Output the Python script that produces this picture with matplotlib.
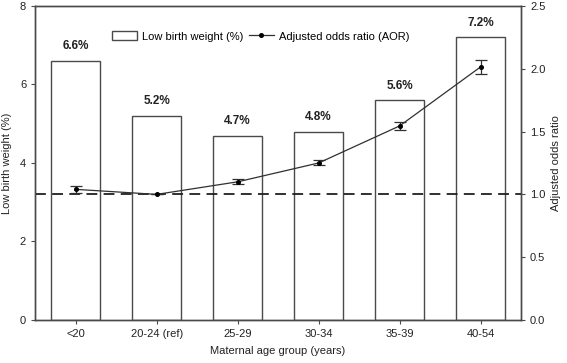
import matplotlib
matplotlib.use("Agg")
import matplotlib.pyplot as plt
from matplotlib.lines import Line2D
import numpy as np

plt.rcParams['font.family'] = ['Liberation Sans', 'DejaVu Sans']

groups = ["<20", "20-24 (ref)", "25-29", "30-34", "35-39", "40-54"]
lbw = [6.6, 5.2, 4.7, 4.8, 5.6, 7.2]
aor = [1.04, 1.00, 1.10, 1.25, 1.545, 2.015]
aor_lo = [1.01, 1.00, 1.08, 1.23, 1.515, 1.955]
aor_hi = [1.07, 1.00, 1.12, 1.27, 1.575, 2.07]

edge = '#4a4a4a'
fs = 8
fig = plt.figure(figsize=(5.67, 3.63), dpi=100)
ax = fig.add_axes([0.062, 0.1185, 0.857, 0.865])
x = np.arange(len(groups))

bars = ax.bar(x, lbw, width=0.6, color='white', edgecolor=edge, linewidth=1.0,
              label='Low birth weight (%)')
for xi, v in zip(x, lbw):
    ax.text(xi, v + 0.22, f"{v:.1f}%", ha='center', va='bottom',
            fontsize=8.5, fontweight='bold', color='#222222')

ax.set_xlim(-0.5, 5.5)
ax.set_ylim(0, 8)
ax.set_yticks([0, 2, 4, 6, 8])
ax.set_xticks(x)
ax.set_xticklabels(groups)
ax.set_xlabel("Maternal age group (years)", fontsize=fs, labelpad=5, color='#222222')
ax.set_ylabel("Low birth weight (%)", fontsize=fs, labelpad=6, color='#222222')
ax.tick_params(labelsize=fs, length=3, color=edge, width=0.8, labelcolor='#222222')
for s in ax.spines.values():
    s.set_color(edge)
    s.set_linewidth(1.0)

ax2 = ax.twinx()
ax2.set_ylim(0, 2.5)
ax2.set_yticks([0, 0.5, 1.0, 1.5, 2.0, 2.5])
ax2.set_yticklabels(["0.0", "0.5", "1.0", "1.5", "2.0", "2.5"])
ax2.tick_params(labelsize=fs, length=3, color=edge, width=0.8, labelcolor='#222222')
ax2.set_ylabel("Adjusted odds ratio", fontsize=fs, labelpad=4, color='#222222')
for s in ax2.spines.values():
    s.set_color(edge)
    s.set_linewidth(1.0)

ax2.axhline(1.0, color='#202020', linestyle=(0, (6, 3.5)), linewidth=1.3)
yerr = [np.array(aor) - np.array(aor_lo), np.array(aor_hi) - np.array(aor)]
ax2.errorbar(x, aor, yerr=yerr, color='#303030', linewidth=0.9, marker='o',
             markersize=2.6, markerfacecolor='black', markeredgecolor='black',
             capsize=4, elinewidth=0.9, capthick=0.9)

line_handle = Line2D([], [], color='#303030', linewidth=0.9, marker='o',
                     markersize=2.6, markerfacecolor='black', markeredgecolor='black')
ax.legend([bars, line_handle], ['Low birth weight (%)', 'Adjusted odds ratio (AOR)'],
          ncol=2, frameon=False, fontsize=fs,
          loc='upper left', bbox_to_anchor=(0.138, 0.952),
          handlelength=2.2, handleheight=0.9, columnspacing=0.5, handletextpad=0.5)

fig.savefig("out.png", dpi=100)
